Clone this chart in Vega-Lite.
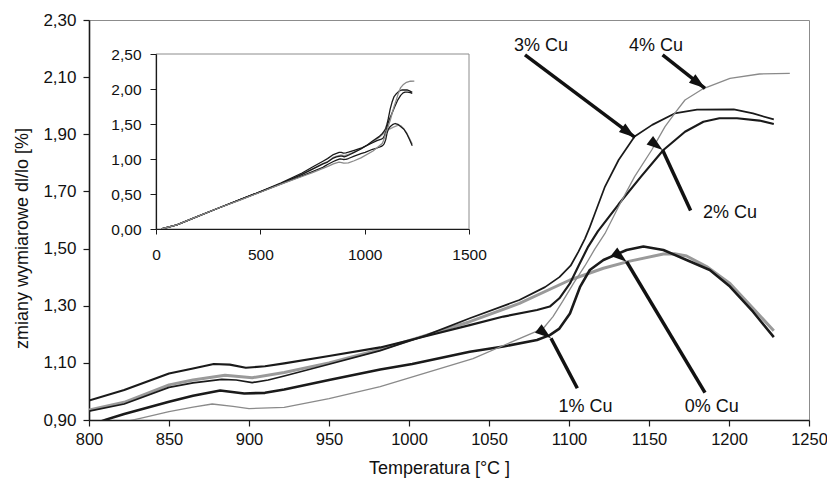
{
  "$schema": "https://vega.github.io/schema/vega-lite/v6.json",
  "width": 720,
  "height": 400,
  "autosize": "none",
  "padding": {"left": 89, "top": 20, "right": 18, "bottom": 68},
  "background": "white",
  "config": {
    "font": "Liberation Sans",
    "view": {"stroke": "#8c8c8c", "strokeWidth": 1},
    "axis": {"grid": false, "domainColor": "#1a1a1a", "tickColor": "#1a1a1a", "labelColor": "#111", "titleColor": "#111", "titleFontWeight": "normal", "labelFlush": false, "labelOverlap": false}
  },
  "datasets": {
    "curves": [
      {"s": "0% Cu", "T": 25, "v": 0.0}, {"s": "0% Cu", "T": 100, "v": 0.06}, {"s": "0% Cu", "T": 200, "v": 0.18}, {"s": "0% Cu", "T": 300, "v": 0.3}, {"s": "0% Cu", "T": 400, "v": 0.415}, {"s": "0% Cu", "T": 500, "v": 0.53}, {"s": "0% Cu", "T": 600, "v": 0.65}, {"s": "0% Cu", "T": 700, "v": 0.785}, {"s": "0% Cu", "T": 750, "v": 0.86},
      {"s": "0% Cu", "T": 800, "v": 0.935}, {"s": "0% Cu", "T": 822, "v": 0.962}, {"s": "0% Cu", "T": 850, "v": 1.023}, {"s": "0% Cu", "T": 865, "v": 1.04}, {"s": "0% Cu", "T": 885, "v": 1.057}, {"s": "0% Cu", "T": 902, "v": 1.048}, {"s": "0% Cu", "T": 922, "v": 1.066}, {"s": "0% Cu", "T": 950, "v": 1.1}, {"s": "0% Cu", "T": 982, "v": 1.147}, {"s": "0% Cu", "T": 1011, "v": 1.197}, {"s": "0% Cu", "T": 1038, "v": 1.244}, {"s": "0% Cu", "T": 1069, "v": 1.308}, {"s": "0% Cu", "T": 1100.6, "v": 1.39}, {"s": "0% Cu", "T": 1121.5, "v": 1.431}, {"s": "0% Cu", "T": 1138, "v": 1.456}, {"s": "0% Cu", "T": 1159, "v": 1.481}, {"s": "0% Cu", "T": 1166, "v": 1.482}, {"s": "0% Cu", "T": 1173.5, "v": 1.474}, {"s": "0% Cu", "T": 1186, "v": 1.437}, {"s": "0% Cu", "T": 1200.6, "v": 1.378}, {"s": "0% Cu", "T": 1215, "v": 1.291}, {"s": "0% Cu", "T": 1228, "v": 1.212},
      {"s": "1% Cu", "T": 25, "v": 0.0}, {"s": "1% Cu", "T": 100, "v": 0.06}, {"s": "1% Cu", "T": 200, "v": 0.18}, {"s": "1% Cu", "T": 300, "v": 0.3}, {"s": "1% Cu", "T": 400, "v": 0.415}, {"s": "1% Cu", "T": 500, "v": 0.53}, {"s": "1% Cu", "T": 600, "v": 0.645}, {"s": "1% Cu", "T": 700, "v": 0.76}, {"s": "1% Cu", "T": 750, "v": 0.82},
      {"s": "1% Cu", "T": 800, "v": 0.88}, {"s": "1% Cu", "T": 811, "v": 0.902}, {"s": "1% Cu", "T": 822, "v": 0.921}, {"s": "1% Cu", "T": 850, "v": 0.964}, {"s": "1% Cu", "T": 865, "v": 0.985}, {"s": "1% Cu", "T": 882, "v": 1.003}, {"s": "1% Cu", "T": 897, "v": 0.993}, {"s": "1% Cu", "T": 910, "v": 0.995}, {"s": "1% Cu", "T": 922, "v": 1.007}, {"s": "1% Cu", "T": 950, "v": 1.04}, {"s": "1% Cu", "T": 982, "v": 1.077}, {"s": "1% Cu", "T": 1002, "v": 1.096}, {"s": "1% Cu", "T": 1038, "v": 1.139}, {"s": "1% Cu", "T": 1059, "v": 1.157}, {"s": "1% Cu", "T": 1080, "v": 1.18}, {"s": "1% Cu", "T": 1088, "v": 1.197}, {"s": "1% Cu", "T": 1094, "v": 1.22}, {"s": "1% Cu", "T": 1100.6, "v": 1.273}, {"s": "1% Cu", "T": 1107, "v": 1.367}, {"s": "1% Cu", "T": 1113, "v": 1.425}, {"s": "1% Cu", "T": 1121.5, "v": 1.46}, {"s": "1% Cu", "T": 1136, "v": 1.495}, {"s": "1% Cu", "T": 1146.5, "v": 1.507}, {"s": "1% Cu", "T": 1159, "v": 1.495}, {"s": "1% Cu", "T": 1173.5, "v": 1.46}, {"s": "1% Cu", "T": 1188, "v": 1.425}, {"s": "1% Cu", "T": 1200.6, "v": 1.367}, {"s": "1% Cu", "T": 1215, "v": 1.279}, {"s": "1% Cu", "T": 1228, "v": 1.19},
      {"s": "2% Cu", "T": 25, "v": 0.0}, {"s": "2% Cu", "T": 100, "v": 0.06}, {"s": "2% Cu", "T": 200, "v": 0.18}, {"s": "2% Cu", "T": 300, "v": 0.3}, {"s": "2% Cu", "T": 400, "v": 0.415}, {"s": "2% Cu", "T": 500, "v": 0.535}, {"s": "2% Cu", "T": 600, "v": 0.66}, {"s": "2% Cu", "T": 700, "v": 0.8}, {"s": "2% Cu", "T": 750, "v": 0.885},
      {"s": "2% Cu", "T": 800, "v": 0.968}, {"s": "2% Cu", "T": 822, "v": 1.005}, {"s": "2% Cu", "T": 850, "v": 1.063}, {"s": "2% Cu", "T": 865, "v": 1.08}, {"s": "2% Cu", "T": 878, "v": 1.096}, {"s": "2% Cu", "T": 888, "v": 1.094}, {"s": "2% Cu", "T": 898, "v": 1.083}, {"s": "2% Cu", "T": 910, "v": 1.088}, {"s": "2% Cu", "T": 922, "v": 1.098}, {"s": "2% Cu", "T": 950, "v": 1.124}, {"s": "2% Cu", "T": 982, "v": 1.154}, {"s": "2% Cu", "T": 1011, "v": 1.194}, {"s": "2% Cu", "T": 1038, "v": 1.232}, {"s": "2% Cu", "T": 1059, "v": 1.262}, {"s": "2% Cu", "T": 1080, "v": 1.285}, {"s": "2% Cu", "T": 1088, "v": 1.297}, {"s": "2% Cu", "T": 1094, "v": 1.326}, {"s": "2% Cu", "T": 1100.6, "v": 1.378}, {"s": "2% Cu", "T": 1106, "v": 1.44}, {"s": "2% Cu", "T": 1112, "v": 1.507}, {"s": "2% Cu", "T": 1118, "v": 1.56}, {"s": "2% Cu", "T": 1131, "v": 1.655}, {"s": "2% Cu", "T": 1145, "v": 1.752}, {"s": "2% Cu", "T": 1159, "v": 1.845}, {"s": "2% Cu", "T": 1172.5, "v": 1.909}, {"s": "2% Cu", "T": 1184, "v": 1.944}, {"s": "2% Cu", "T": 1194, "v": 1.956}, {"s": "2% Cu", "T": 1205, "v": 1.956}, {"s": "2% Cu", "T": 1219, "v": 1.948}, {"s": "2% Cu", "T": 1228, "v": 1.936},
      {"s": "3% Cu", "T": 25, "v": 0.0}, {"s": "3% Cu", "T": 100, "v": 0.06}, {"s": "3% Cu", "T": 200, "v": 0.18}, {"s": "3% Cu", "T": 300, "v": 0.3}, {"s": "3% Cu", "T": 400, "v": 0.415}, {"s": "3% Cu", "T": 500, "v": 0.53}, {"s": "3% Cu", "T": 600, "v": 0.65}, {"s": "3% Cu", "T": 700, "v": 0.78}, {"s": "3% Cu", "T": 750, "v": 0.855},
      {"s": "3% Cu", "T": 800, "v": 0.931}, {"s": "3% Cu", "T": 822, "v": 0.956}, {"s": "3% Cu", "T": 850, "v": 1.014}, {"s": "3% Cu", "T": 865, "v": 1.03}, {"s": "3% Cu", "T": 883, "v": 1.042}, {"s": "3% Cu", "T": 892, "v": 1.04}, {"s": "3% Cu", "T": 902, "v": 1.031}, {"s": "3% Cu", "T": 912, "v": 1.04}, {"s": "3% Cu", "T": 922, "v": 1.054}, {"s": "3% Cu", "T": 950, "v": 1.095}, {"s": "3% Cu", "T": 982, "v": 1.143}, {"s": "3% Cu", "T": 1011, "v": 1.197}, {"s": "3% Cu", "T": 1038, "v": 1.256}, {"s": "3% Cu", "T": 1069, "v": 1.32}, {"s": "3% Cu", "T": 1085, "v": 1.365}, {"s": "3% Cu", "T": 1094, "v": 1.4}, {"s": "3% Cu", "T": 1101, "v": 1.44}, {"s": "3% Cu", "T": 1106, "v": 1.49}, {"s": "3% Cu", "T": 1110, "v": 1.535}, {"s": "3% Cu", "T": 1113, "v": 1.575}, {"s": "3% Cu", "T": 1116, "v": 1.62}, {"s": "3% Cu", "T": 1122.5, "v": 1.717}, {"s": "3% Cu", "T": 1131, "v": 1.81}, {"s": "3% Cu", "T": 1141, "v": 1.892}, {"s": "3% Cu", "T": 1152, "v": 1.933}, {"s": "3% Cu", "T": 1166, "v": 1.973}, {"s": "3% Cu", "T": 1180, "v": 1.986}, {"s": "3% Cu", "T": 1203, "v": 1.987}, {"s": "3% Cu", "T": 1215, "v": 1.973}, {"s": "3% Cu", "T": 1228, "v": 1.952},
      {"s": "4% Cu", "T": 25, "v": 0.0}, {"s": "4% Cu", "T": 100, "v": 0.06}, {"s": "4% Cu", "T": 200, "v": 0.18}, {"s": "4% Cu", "T": 300, "v": 0.3}, {"s": "4% Cu", "T": 400, "v": 0.41}, {"s": "4% Cu", "T": 500, "v": 0.525}, {"s": "4% Cu", "T": 600, "v": 0.64}, {"s": "4% Cu", "T": 700, "v": 0.75}, {"s": "4% Cu", "T": 750, "v": 0.805},
      {"s": "4% Cu", "T": 800, "v": 0.865}, {"s": "4% Cu", "T": 832, "v": 0.906}, {"s": "4% Cu", "T": 850, "v": 0.929}, {"s": "4% Cu", "T": 865, "v": 0.945}, {"s": "4% Cu", "T": 877, "v": 0.956}, {"s": "4% Cu", "T": 890, "v": 0.948}, {"s": "4% Cu", "T": 900, "v": 0.94}, {"s": "4% Cu", "T": 922, "v": 0.944}, {"s": "4% Cu", "T": 950, "v": 0.975}, {"s": "4% Cu", "T": 982, "v": 1.017}, {"s": "4% Cu", "T": 1040, "v": 1.115}, {"s": "4% Cu", "T": 1084, "v": 1.221}, {"s": "4% Cu", "T": 1090, "v": 1.262}, {"s": "4% Cu", "T": 1096, "v": 1.315}, {"s": "4% Cu", "T": 1103, "v": 1.38}, {"s": "4% Cu", "T": 1110, "v": 1.44}, {"s": "4% Cu", "T": 1116, "v": 1.497}, {"s": "4% Cu", "T": 1122.5, "v": 1.553}, {"s": "4% Cu", "T": 1131, "v": 1.647}, {"s": "4% Cu", "T": 1141, "v": 1.752}, {"s": "4% Cu", "T": 1151.7, "v": 1.845}, {"s": "4% Cu", "T": 1160, "v": 1.927}, {"s": "4% Cu", "T": 1167, "v": 1.98}, {"s": "4% Cu", "T": 1172.5, "v": 2.02}, {"s": "4% Cu", "T": 1184, "v": 2.06}, {"s": "4% Cu", "T": 1200.6, "v": 2.096}, {"s": "4% Cu", "T": 1219, "v": 2.111}, {"s": "4% Cu", "T": 1238, "v": 2.113}
    ],
    "notes": [
      {"label": "3% Cu", "Tl": 1082.5, "vl": 2.209, "Ts": 1072.5, "vs": 2.178, "Tt": 1141.25, "vt": 1.889},
      {"label": "4% Cu", "Tl": 1154.4, "vl": 2.209, "Ts": 1158.5, "vs": 2.178, "Tt": 1185, "vt": 2.061},
      {"label": "2% Cu", "Tl": 1200.6, "vl": 1.625, "Ts": 1176, "vs": 1.633, "Tt": 1158.5, "vt": 1.845},
      {"label": "1% Cu", "Tl": 1110.3, "vl": 0.945, "Ts": 1105.2, "vs": 1.011, "Tt": 1088.75, "vt": 1.186},
      {"label": "0% Cu", "Tl": 1189.2, "vl": 0.945, "Ts": 1185, "vs": 0.996, "Tt": 1136, "vt": 1.454}
    ]
  },
  "layer": [
    {
      "data": {"name": "curves"},
      "transform": [{"filter": "datum.T >= 800"}],
      "mark": {"type": "line", "clip": true, "strokeJoin": "round"},
      "encoding": {
        "x": {"field": "T", "type": "quantitative", "scale": {"domain": [800, 1250], "nice": false, "zero": false},
              "axis": {"title": "Temperatura [°C ]", "format": "d", "values": [800, 850, 900, 950, 1000, 1050, 1100, 1150, 1200, 1250], "labelFontSize": 16.5, "titleFontSize": 18, "tickSize": 6, "tickWidth": 1.2, "domainWidth": 1.6, "labelPadding": 5, "titlePadding": 12, "titleX": 350, "titleAlign": "center"}},
        "y": {"field": "v", "type": "quantitative", "scale": {"domain": [0.9, 2.3], "nice": false, "zero": false},
              "axis": {"title": "zmiany wymiarowe dl/lo [%]", "values": [0.9, 1.1, 1.3, 1.5, 1.7, 1.9, 2.1, 2.3], "labelExpr": "replace(format(datum.value, '.2f'), '.', ',')", "labelFontSize": 17, "titleFontSize": 18, "tickSize": 6, "tickWidth": 1.2, "domainWidth": 1.6, "labelPadding": 7, "titlePadding": 11, "titleY": 218, "titleAlign": "center"}},
        "color": {"field": "s", "type": "nominal", "scale": {"domain": ["0% Cu", "1% Cu", "2% Cu", "3% Cu", "4% Cu"], "range": ["#9a9a9a", "#1a1a1a", "#1a1a1a", "#1a1a1a", "#8a8a8a"]}, "legend": null},
        "strokeWidth": {"field": "s", "type": "nominal", "scale": {"domain": ["0% Cu", "1% Cu", "2% Cu", "3% Cu", "4% Cu"], "range": [3, 1.3, 1.3, 1.3, 1.2]}, "legend": null}
      }
    },
    {
      "data": {"name": "notes"},
      "mark": {"type": "rule", "color": "#111", "strokeWidth": 3.5},
      "encoding": {
        "x": {"field": "Ts", "type": "quantitative", "scale": {"domain": [800, 1250], "nice": false, "zero": false}, "axis": null},
        "y": {"field": "vs", "type": "quantitative", "scale": {"domain": [0.9, 2.3], "nice": false, "zero": false}, "axis": null},
        "x2": {"field": "Tt"},
        "y2": {"field": "vt"}
      }
    },
    {
      "data": {"name": "notes"},
      "mark": {"type": "point", "shape": "M0,0 L-1,3 L1,3 Z", "filled": true, "color": "#111", "size": 115, "opacity": 1},
      "encoding": {
        "x": {"field": "Tt", "type": "quantitative", "scale": {"domain": [800, 1250], "nice": false, "zero": false}, "axis": null},
        "y": {"field": "vt", "type": "quantitative", "scale": {"domain": [0.9, 2.3], "nice": false, "zero": false}, "axis": null},
        "angle": {"field": "label", "type": "nominal", "scale": {"domain": ["3% Cu", "4% Cu", "2% Cu", "1% Cu", "0% Cu"], "range": [126.8, 128.2, 335.2, 332.3, 329.1]}, "legend": null}
      }
    },
    {
      "data": {"name": "notes"},
      "mark": {"type": "text", "fontSize": 18, "color": "#111", "align": "center", "baseline": "middle"},
      "encoding": {
        "x": {"field": "Tl", "type": "quantitative", "scale": {"domain": [800, 1250], "nice": false, "zero": false}, "axis": null},
        "y": {"field": "vl", "type": "quantitative", "scale": {"domain": [0.9, 2.3], "nice": false, "zero": false}, "axis": null},
        "text": {"field": "label"}
      }
    },
    {
      "data": {"values": [{"T0": 0, "T1": 1500, "v0": 0, "v1": 2.5}]},
      "mark": {"type": "rect", "fill": "white", "stroke": "#8c8c8c", "strokeWidth": 1},
      "encoding": {
        "x": {"field": "T0", "type": "quantitative", "scale": {"domain": [0, 1500], "range": [67, 380], "nice": false, "zero": false},
              "axis": {"orient": "bottom", "offset": -191, "zindex": 1, "title": null, "format": "d", "values": [0, 500, 1000, 1500], "labelFontSize": 15.5, "tickSize": 5, "tickWidth": 1, "domainWidth": 1.2, "labelPadding": 13}},
        "x2": {"field": "T1"},
        "y": {"field": "v0", "type": "quantitative", "scale": {"domain": [0, 2.5], "range": [209, 34], "nice": false, "zero": false},
              "axis": {"orient": "left", "offset": -67, "zindex": 1, "title": null, "values": [0, 0.5, 1, 1.5, 2, 2.5], "labelExpr": "replace(format(datum.value, '.2f'), '.', ',')", "labelFontSize": 15.5, "tickSize": 6, "tickWidth": 1, "domainWidth": 1.2, "labelPadding": 9}},
        "y2": {"field": "v1"}
      }
    },
    {
      "data": {"name": "curves"},
      "mark": {"type": "line", "strokeWidth": 1.3, "strokeJoin": "round"},
      "encoding": {
        "x": {"field": "T", "type": "quantitative", "scale": {"domain": [0, 1500], "range": [67, 380], "nice": false, "zero": false}, "axis": null},
        "y": {"field": "v", "type": "quantitative", "scale": {"domain": [0, 2.5], "range": [209, 34], "nice": false, "zero": false}, "axis": null},
        "color": {"field": "s", "type": "nominal", "legend": null}
      }
    }
  ],
  "resolve": {"scale": {"x": "independent", "y": "independent"}}
}
